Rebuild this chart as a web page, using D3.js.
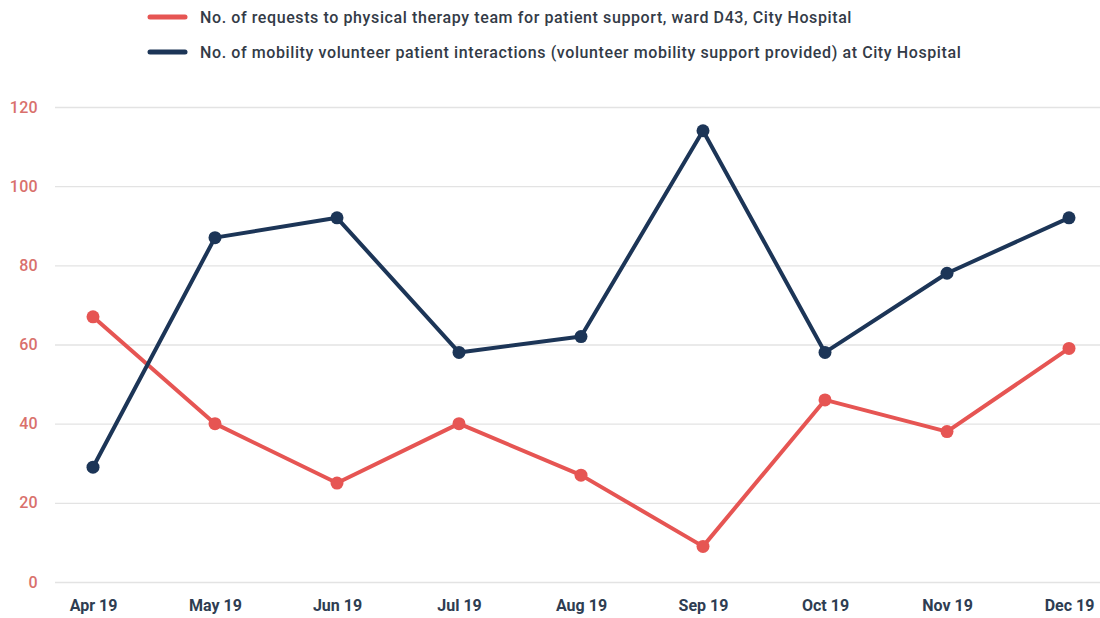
<!DOCTYPE html>
<html>
<head>
<meta charset="utf-8">
<script src="https://cdn.jsdelivr.net/npm/d3@7"></script>
<style>
  body { margin: 0; background: #fff; font-family: Roboto, "Open Sans", sans-serif; }
  #graphicContainer { width: 1100px; height: 618px; }
</style>
</head>
<body>
<div id="graphicContainer"></div>
<script>
var months = ["Apr 19", "May 19", "Jun 19", "Jul 19", "Aug 19", "Sep 19", "Oct 19", "Nov 19", "Dec 19"];
var requests = [67, 40, 25, 40, 27, 9, 46, 38, 59];
var volunteer = [29, 87, 92, 58, 62, 114, 58, 78, 92];
var yTicks = [0, 20, 40, 60, 80, 100, 120];
var seriesNames = [
  "No. of requests to physical therapy team for patient support, ward D43, City Hospital",
  "No. of mobility volunteer patient interactions (volunteer mobility support provided) at City Hospital"
];

var red = "#e65553", navy = "#1c3557";

var width = 1100, height = 618;
var margin = {top: 107, right: 31, bottom: 36, left: 93};

var svg = d3.select("#graphicContainer").append("svg")
  .attr("width", width)
  .attr("height", height);

var x = d3.scalePoint()
  .domain(months)
  .range([margin.left, width - margin.right]);

var y = d3.scaleLinear()
  .domain([0, 120])
  .range([height - margin.bottom, margin.top]);

// gridlines + y labels
var grid = svg.append("g")
  .attr("transform", "translate(55,0)")
  .call(d3.axisLeft(y).tickValues(yTicks).tickSize(-(width - 55)).tickFormat(d3.format("d")).tickPadding(17));
grid.select(".domain").remove();
grid.selectAll(".tick line").attr("stroke", "#e3e3e3").attr("stroke-width", 1.3);
grid.selectAll(".tick text")
  .attr("fill", "#d9706c")
  .attr("font-size", 16)
  .attr("font-weight", 500)
  .attr("letter-spacing", 0.3)
  .attr("font-family", "Roboto, sans-serif");

// x labels
var xa = svg.append("g")
  .attr("transform", "translate(0," + (height - margin.bottom) + ")")
  .call(d3.axisBottom(x).tickSize(0).tickPadding(18));
xa.select(".domain").remove();
xa.selectAll(".tick text")
  .attr("fill", "#2e3d52")
  .attr("font-size", 16)
  .attr("font-weight", 700)
  .attr("font-family", "Roboto, sans-serif");

var line = d3.line()
  .x(function(d, i) { return x(months[i]); })
  .y(function(d) { return y(d); });

[[requests, red], [volunteer, navy]].forEach(function(s) {
  svg.append("path")
    .datum(s[0])
    .attr("fill", "none")
    .attr("stroke", s[1])
    .attr("stroke-width", 4)
    .attr("stroke-linejoin", "round")
    .attr("d", line);
  svg.append("g").selectAll("circle")
    .data(s[0])
    .enter().append("circle")
    .attr("cx", function(d, i) { return x(months[i]); })
    .attr("cy", function(d) { return y(d); })
    .attr("r", 6.5)
    .attr("fill", s[1]);
});

// legend
var legend = svg.append("g").attr("transform", "translate(150,17)");
[red, navy].forEach(function(c, i) {
  var g = legend.append("g").attr("transform", "translate(0," + (i * 35) + ")");
  g.append("line")
    .attr("x1", 0).attr("x2", 35)
    .attr("stroke", c).attr("stroke-width", 5).attr("stroke-linecap", "round");
  g.append("text")
    .attr("x", 50).attr("dy", "0.35em")
    .attr("fill", "#333b47")
    .attr("font-size", 16)
    .attr("font-weight", 500)
    .attr("letter-spacing", 0.6)
    .text(seriesNames[i]);
});
</script>
</body>
</html>
